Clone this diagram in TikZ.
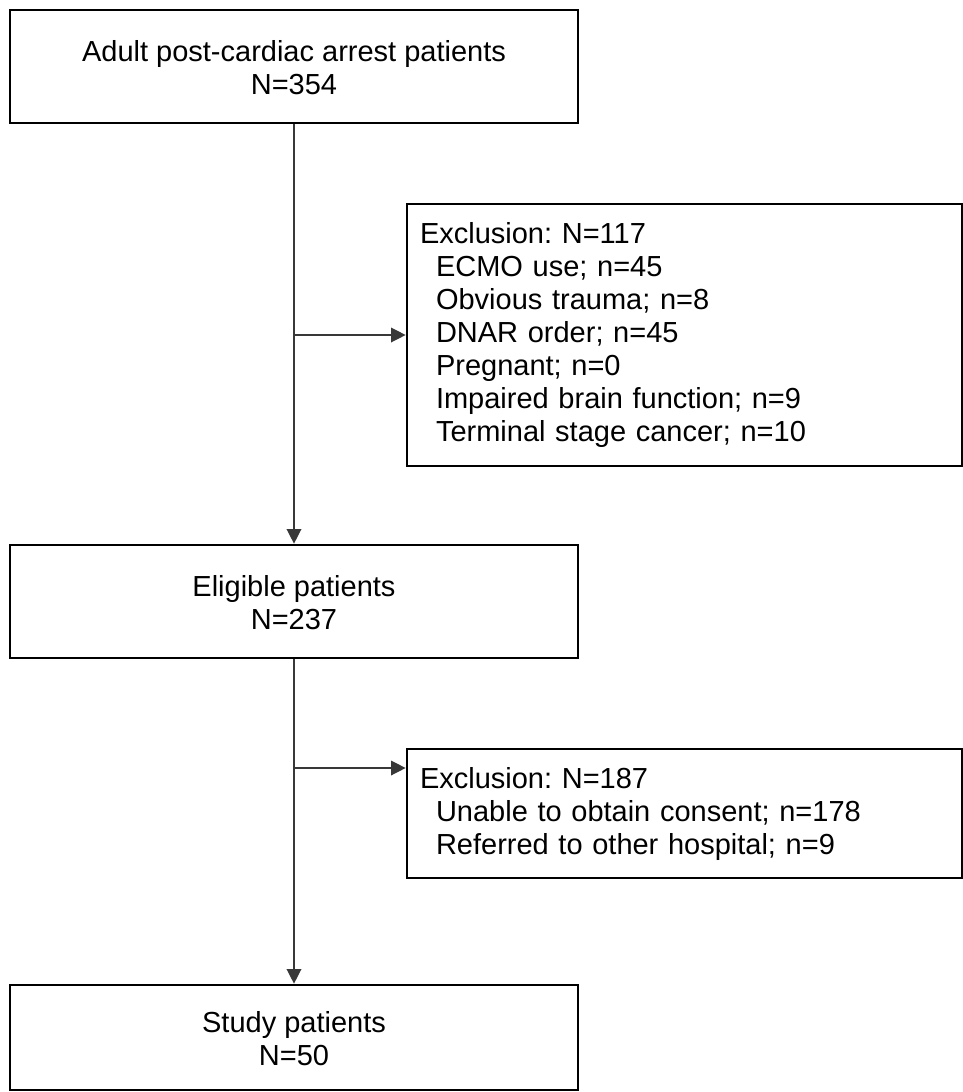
\documentclass[tikz,border=0pt]{standalone}
\usepackage{fontspec}
\setmainfont{Liberation Sans}
\usetikzlibrary{arrows.meta}
\begin{document}
\begin{tikzpicture}[x=0.75pt,y=-0.75pt,
  mainbox/.style={draw=black, line width=2pt, minimum width=426pt, minimum height=84.75pt, align=center, inner sep=0pt, font=\fontsize{21.75}{24.75}\selectfont\frenchspacing},
  exclbox/.style={draw=black, line width=2pt, minimum width=416.25pt, text width=396.75pt, inner xsep=9.75pt, inner ysep=0pt, align=left, font=\fontsize{21.75}{24.75}\selectfont\frenchspacing},
  conn/.style={draw=black!78, line width=1pt},
  arr/.style={-{Triangle[length=11pt,width=11pt]}}]
\useasboundingbox (0,0) rectangle (963,1092);
\node[mainbox] (b1) at (294,66.5) {\rule{0pt}{17pt}Adult post-cardiac arrest patients\\N=354};
\node[exclbox, minimum height=196.5pt] (e1) at (684.5,335) {Exclusion: N=117\\
\hspace*{12pt}ECMO use; n=45\\
\hspace*{12pt}Obvious trauma; n=8\\
\hspace*{12pt}DNAR order; n=45\\
\hspace*{12pt}Pregnant; n=0\\
\hspace*{12pt}Impaired brain function; n=9\\
\hspace*{12pt}Terminal stage cancer; n=10};
\node[mainbox] (b2) at (294,601.5) {\rule{0pt}{17pt}Eligible patients\\N=237};
\node[exclbox, minimum height=96.75pt] (e2) at (684.5,813.5) {Exclusion: N=187\\
\hspace*{12pt}Unable to obtain consent; n=178\\
\hspace*{12pt}Referred to other hospital; n=9};
\node[mainbox, minimum height=78.75pt] (b3) at (294,1037.5) {\rule{0pt}{17pt}Study patients\\N=50};
\coordinate (j2) at (294,768);
\draw[conn,arr] (b1.south) -- (b2.north);
\draw[conn,arr] (b2.south) -- (b3.north);
\draw[conn,arr] (b1.south |- e1.west) -- (e1.west);
\draw[conn,arr] (j2) -- (j2 -| e2.west);
\end{tikzpicture}
\end{document}
